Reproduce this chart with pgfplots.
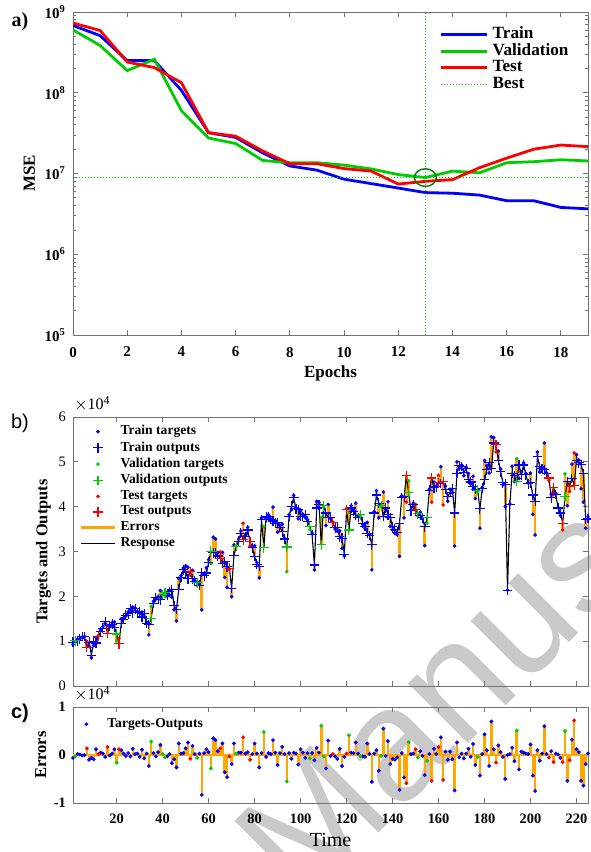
\documentclass[border=0pt]{standalone}
\usepackage{pgfplots}
\pgfplotsset{compat=1.18}
\usepackage{pgfplotstable}
\usepackage{fontspec}
\setmainfont{Liberation Serif}
\newfontfamily\sansfont{Liberation Sans}

\definecolor{mblue}{rgb}{0,0,1}
\definecolor{mgreen}{rgb}{0,0.8,0}
\definecolor{mred}{rgb}{1,0,0}
\definecolor{morange}{rgb}{1,0.65,0}
\definecolor{dgreen}{rgb}{0,0.5,0}

% keep only the rows of one data division (0 train, 1 validation, 2 test)
\pgfplotsset{
  only set/.style={restrict expr to domain={\thisrow{s}}{#1:#1}},
  mataxis/.style={
    scale only axis, anchor=south west,
    axis line style={draw=black!55},
    every tick/.style={black!55, line width=0.4pt},
    major tick length=2.5pt, minor tick length=1.5pt,
  }
}

% training record
\pgfplotstableread{
ep train val test
0 6.8e8 6.0e8 7.3e8
1 5.1e8 3.85e8 5.9e8
2 2.5e8 1.88e8 2.4e8
3 2.5e8 2.6e8 2.05e8
4 1.07e8 6.0e7 1.33e8
5 3.2e7 2.75e7 3.2e7
6 2.8e7 2.35e7 2.9e7
7 1.8e7 1.45e7 1.9e7
8 1.24e7 1.36e7 1.32e7
9 1.1e7 1.36e7 1.32e7
10 8.5e6 1.27e7 1.15e7
11 7.5e6 1.14e7 1.07e7
12 6.6e6 9.7e6 7.4e6
13 5.8e6 8.9e6 8.0e6
14 5.7e6 1.07e7 8.4e6
15 5.4e6 1.02e7 1.18e7
16 4.6e6 1.36e7 1.55e7
17 4.6e6 1.4e7 2.0e7
18 3.8e6 1.48e7 2.25e7
19 3.65e6 1.43e7 2.15e7
}\mse

% time response: target, output, error (target-output), division
\pgfplotstableread{
t y o e s
1 9200 9800 -600 0
2 9800 10100 -300 1
3 10300 10100 200 0
4 10600 10500 100 0
5 10900 11000 -100 0
6 11000 11000 0 0
7 10000 8600 1400 2
8 8800 9800 -1000 0
9 6300 6900 -600 0
10 9000 9900 -900 0
11 10800 9600 1200 0
12 11200 11000 200 2
13 12600 12100 500 0
14 13200 12900 300 0
15 14000 14400 -400 0
16 13500 11800 1700 2
17 13300 13400 -100 0
18 14100 13800 300 0
19 14300 13100 1200 0
20 10000 11600 -1600 1
21 10600 9400 1200 2
22 15000 14000 1000 0
23 15200 14900 300 0
24 15600 15800 -200 0
25 16500 16100 400 0
26 16900 17200 -300 0
27 17600 16300 1300 0
28 17400 17200 200 0
29 16600 16300 300 0
30 16200 16600 -400 0
31 16500 15400 1100 0
32 15400 16100 -700 0
33 14300 14000 300 0
34 11400 13700 -2300 0
35 17800 15000 2800 1
36 18900 18500 400 0
37 19400 19700 -300 0
38 19900 19300 600 0
39 21300 19200 2100 0
40 20600 20400 200 1
41 20300 20800 -500 1
42 20000 20300 -300 0
43 21200 21000 200 0
44 19800 21500 -1700 0
45 17000 17900 -900 0
46 14500 17100 -2600 0
47 24000 21600 2400 0
48 24600 24300 300 0
49 26300 25900 400 0
50 26800 25400 1400 0
51 26500 23900 2600 0
52 24700 25500 -800 2
53 25800 23900 1900 0
54 23600 23400 200 0
55 22400 23000 -600 1
56 22800 22500 300 0
57 17000 25300 -8300 0
58 25000 24600 400 0
59 26400 25200 1200 0
60 28200 27600 600 0
61 27300 30100 -2800 1
62 33200 29700 3500 0
63 32800 29700 3100 0
64 29800 29000 800 0
65 29900 28500 1400 2
66 29800 27400 2400 0
67 24200 27800 -3600 0
68 22000 26600 -4600 0
69 26000 26300 -300 2
70 19900 21800 -1900 0
71 31500 29100 2400 0
72 31400 31100 300 1
73 32800 32300 500 0
74 34600 34100 500 0
75 36300 32600 3700 2
76 33600 33300 300 0
77 35400 34800 600 0
78 31200 32200 -1000 2
79 31000 30800 200 0
80 31300 28900 2400 0
81 27500 27200 300 0
82 24100 26700 -2600 0
83 37500 37100 400 0
84 35600 30800 4800 1
85 37300 37700 -400 0
86 38200 37800 400 0
87 37300 37100 200 0
88 39900 36800 3100 0
89 36800 36300 500 0
90 34300 36400 -2100 0
91 35800 35400 400 0
92 36100 34400 1700 0
93 33000 32800 200 0
94 25500 31000 -5500 1
95 38200 37800 400 0
96 39300 40100 -800 0
97 42500 42000 500 0
98 39800 39500 300 0
99 37300 39300 -2000 0
100 39100 37900 1200 0
101 38300 37800 500 0
102 37600 38200 -600 0
103 37100 36700 400 0
104 34900 35600 -700 1
105 34100 33700 400 0
106 25900 27000 -1100 0
107 41200 39700 1500 0
108 40900 40400 500 0
109 37600 31500 6100 1
110 39900 40200 -300 1
111 35800 38600 -2800 0
112 40500 37500 3000 0
113 37300 37500 -200 0
114 36600 36400 200 2
115 35000 35300 -300 0
116 34500 35300 -800 0
117 34600 33300 1300 0
118 30700 33000 -2300 0
119 29000 29400 -400 0
120 39600 39300 300 2
121 38900 34800 4100 1
122 40200 39700 500 0
123 39300 38900 400 0
124 40800 38200 2600 0
125 37900 37600 300 0
126 38000 38200 -200 1
127 36000 36300 -300 0
128 35200 35600 -400 0
129 36500 34100 2400 0
130 33800 33600 200 0
131 25900 31500 -5600 0
132 38900 38600 300 0
133 43600 42600 1000 0
134 37500 40800 -3300 0
135 40000 40200 -200 1
136 43300 37800 5500 0
137 39500 39700 -200 0
138 41100 38200 2900 0
139 35600 37500 -1900 0
140 34800 35600 -800 0
141 34000 35000 -1000 0
142 33800 34300 -500 0
143 28900 36200 -7300 0
144 42400 42000 400 0
145 37500 42200 -4700 0
146 41000 46900 -5900 2
147 45800 43100 2700 1
148 39300 39100 200 0
149 40800 40500 300 0
150 40500 39300 1200 2
151 37900 38400 -500 1
152 38800 38000 800 0
153 37300 37500 -200 0
154 31300 35500 -4200 0
155 36300 37500 -1200 1
156 43900 43700 200 0
157 41000 46400 -5400 2
158 45500 44200 1300 0
159 44600 44400 200 0
160 47000 45300 1700 2
161 48900 45200 3700 0
162 40400 45600 -5200 2
163 44600 43900 700 0
164 41200 42200 -1000 0
165 43900 43200 700 0
166 43100 44000 -900 0
167 31200 38600 -7400 0
168 50000 47400 2600 0
169 48600 49100 -500 0
170 49300 49000 300 0
171 46900 47600 -700 0
172 48800 48500 300 0
173 47400 46100 1300 0
174 45100 45500 -400 0
175 46800 44500 2300 0
176 41800 43900 -2100 0
177 43300 43700 -400 1
178 35200 39500 -4300 0
179 44300 44100 200 0
180 50300 46000 4300 0
181 49200 48200 1000 0
182 47500 49800 -2300 0
183 55600 48600 7000 0
184 55400 54200 1200 0
185 52200 53800 -1600 2
186 52400 50400 2000 0
187 48400 47800 600 0
188 44900 45300 -400 0
189 40000 45000 -5000 0
190 21400 21400 0 0
191 40600 40400 200 0
192 49000 47500 1500 0
193 45600 46900 -1300 0
194 50700 45600 5100 1
195 46300 49300 -3000 0
196 47800 47100 700 0
197 49800 49300 500 0
198 47400 47100 300 0
199 45300 45100 200 0
200 47500 45300 2200 0
201 38300 42600 -4300 0
202 33700 41200 -7500 0
203 52200 51200 1000 0
204 47700 48900 -1200 0
205 48800 48500 300 0
206 54200 48200 6000 0
207 47500 47300 200 0
208 45900 46400 -500 2
209 42800 42000 800 0
210 42700 44200 -1500 2
211 43000 42700 300 0
212 39800 39700 100 0
213 38000 38600 -600 0
214 34800 36300 -1500 2
215 47300 42300 5000 1
216 40200 45600 -5400 0
217 43400 44500 -1100 2
218 49500 46300 3200 0
219 52000 44800 7200 2
220 51600 50400 1200 0
221 50400 49800 600 0
222 44000 49400 -5400 0
223 41000 47400 -6400 0
224 35200 37100 -1900 0
225 37700 37400 300 0
}\resp

\begin{document}
\begin{tikzpicture}[x=1pt,y=1pt]
\useasboundingbox (0,0) rectangle (295,426);

% watermark
\node[rotate=45, anchor=base, text=black!21, inner sep=0pt,
  font=\sansfont\fontsize{80}{80}\selectfont] at (290pt,110pt) {Manuscript};

% ---------- a) performance ----------
\begin{axis}[mataxis,
  at={(36.5pt,258.5pt)}, width=257.5pt, height=161.5pt,
  ymode=log, ymin=1e5, ymax=1e9, xmin=0, xmax=19,
  xtick={0,2,...,18},
  xticklabel={\pgfmathprintnumber[assume math mode=true]{\tick}},
  ytick={1e5,1e6,1e7,1e8,1e9},
  yticklabels={10\textsuperscript{5},10\textsuperscript{6},10\textsuperscript{7},10\textsuperscript{8},10\textsuperscript{9}},
  tick label style={font=\fontsize{7.5}{9}\selectfont\bfseries},
  xticklabel style={yshift=-2.5pt},
  xlabel={Epochs}, ylabel={MSE},
  label style={font=\fontsize{8.5}{10}\selectfont\bfseries},
  xlabel style={yshift=2.5pt}, ylabel style={yshift=-2pt},
  legend style={at={(0.70,0.98)}, anchor=north west, draw=none, fill=none,
    font=\fontsize{8.6}{9}\selectfont\bfseries, row sep=-3.0pt},
  legend cell align=left,
  legend image code/.code={\draw[#1] (0pt,0pt) -- (23pt,0pt);},
]
\addplot[mblue, line width=1.4pt] table[x=ep, y=train] {\mse};
\addlegendentry{Train}
\addplot[mgreen, line width=1.4pt] table[x=ep, y=val] {\mse};
\addlegendentry{Validation}
\addplot[mred, line width=1.4pt] table[x=ep, y=test] {\mse};
\addlegendentry{Test}
\addplot[mgreen, densely dotted, line width=0.5pt] coordinates {(0,8.9e6) (19,8.9e6)};
\addlegendentry{Best}
\addplot[forget plot, mgreen, densely dotted, line width=0.5pt] coordinates {(13,1e5) (13,1e9)};
\addplot[forget plot, only marks, mark=o, mark size=5.5pt, dgreen, line width=0.7pt,
  mark options={yscale=0.8}] coordinates {(13,8.9e6)};
\end{axis}

% ---------- b) response ----------
\begin{axis}[mataxis,
  at={(36.5pt,83pt)}, width=257.5pt, height=134.5pt,
  xmin=1, xmax=225, ymin=0, ymax=60000,
  xtick={20,40,...,220}, xticklabels={},
  ytick={0,10000,...,60000}, yticklabels={0,1,2,3,4,5,6},
  scaled y ticks=false,
  tick label style={font=\fontsize{7.2}{9}\selectfont},
  ylabel={Targets and Outputs},
  ylabel style={font=\fontsize{8.2}{10}\selectfont\bfseries, yshift=-3pt},
  legend style={at={(0.0,1.0)}, anchor=north west, draw=none, fill=none,
    font=\fontsize{6.8}{7.4}\selectfont\bfseries, row sep=-2.1pt},
  legend cell align=left,
]
\addplot[forget plot, morange, line width=1.3pt, quiver={u=0, v=\thisrow{e}}] table[x=t, y=o] {\resp};
\addplot[forget plot, black, line width=0.55pt] table[x=t, y=o] {\resp};
\addplot[forget plot, only marks, mark=*, mark size=0.7pt, mblue, only set=0] table[x=t, y=y] {\resp};
\addplot[forget plot, only marks, mark=*, mark size=0.7pt, mgreen, only set=1] table[x=t, y=y] {\resp};
\addplot[forget plot, only marks, mark=*, mark size=0.7pt, mred, only set=2] table[x=t, y=y] {\resp};
\addplot[forget plot, only marks, mark=+, mark size=2.4pt, mblue, line width=0.55pt, only set=0] table[x=t, y=o] {\resp};
\addplot[forget plot, only marks, mark=+, mark size=2.4pt, mgreen, line width=0.55pt, only set=1] table[x=t, y=o] {\resp};
\addplot[forget plot, only marks, mark=+, mark size=2.4pt, mred, line width=0.55pt, only set=2] table[x=t, y=o] {\resp};
\addlegendimage{only marks, mark=*, mark size=0.7pt, mblue}\addlegendentry{Train targets}
\addlegendimage{only marks, mark=+, mark size=2.4pt, mblue, line width=0.55pt}\addlegendentry{Train outputs}
\addlegendimage{only marks, mark=*, mark size=0.7pt, mgreen}\addlegendentry{Validation targets}
\addlegendimage{only marks, mark=+, mark size=2.4pt, mgreen, line width=0.55pt}\addlegendentry{Validation outputs}
\addlegendimage{only marks, mark=*, mark size=0.7pt, mred}\addlegendentry{Test targets}
\addlegendimage{only marks, mark=+, mark size=2.4pt, mred, line width=0.55pt}\addlegendentry{Test outputs}
\addlegendimage{morange, line width=1.5pt}\addlegendentry{Errors}
\addlegendimage{black, line width=0.8pt}\addlegendentry{Response}
\end{axis}

% ---------- c) errors ----------
\begin{axis}[mataxis,
  at={(36.5pt,24.5pt)}, width=257.5pt, height=48pt,
  xmin=1, xmax=225, ymin=-10000, ymax=10000,
  xtick={20,40,...,220},
  xticklabel={\pgfmathprintnumber[assume math mode=true]{\tick}},
  ytick={-10000,0,10000}, yticklabels={-1,0,1},
  scaled y ticks=false,
  tick label style={font=\fontsize{7.2}{9}\selectfont\bfseries},
  xticklabel style={yshift=-2pt},
  xlabel={Time}, ylabel={Errors},
  xlabel style={font=\fontsize{10}{12}\selectfont, yshift=2pt},
  ylabel style={font=\fontsize{8.3}{10}\selectfont\bfseries, yshift=-3pt},
  legend style={at={(0.0,0.97)}, xshift=-5pt, anchor=north west, draw=none, fill=none,
    font=\fontsize{6.8}{7.4}\selectfont\bfseries},
  legend cell align=left,
]
\addplot[forget plot, ycomb, morange, line width=1.25pt] table[x=t, y=e] {\resp};
\addplot[forget plot, morange, line width=1pt] coordinates {(1,0) (225,0)};
\addplot[forget plot, only marks, mark=*, mark size=0.75pt, mblue, only set=0] table[x=t, y=e] {\resp};
\addplot[forget plot, only marks, mark=*, mark size=0.75pt, mgreen, only set=1] table[x=t, y=e] {\resp};
\addplot[forget plot, only marks, mark=*, mark size=0.75pt, mred, only set=2] table[x=t, y=e] {\resp};
\addlegendimage{legend image code/.code={\path[draw=none, fill=none] (0pt,-1pt) rectangle (17pt,1pt);
  \fill[mblue] (8.5pt,0pt) circle (0.75pt);}}
\addlegendentry{Targets-Outputs}
\end{axis}

% panel letters and exponent labels
\node[font=\fontsize{10}{12}\selectfont\bfseries] at (10pt,415pt) {a)};
\node[font=\sansfont\fontsize{10}{12}\selectfont] at (10pt,214.5pt) {b)};
\node[font=\sansfont\fontsize{10}{12}\selectfont\bfseries] at (10pt,69.5pt) {c)};
\node[anchor=base west, inner sep=0pt, font=\fontsize{8}{9}\selectfont] at (37pt,221pt) {$\times$10\textsuperscript{4}};
\node[anchor=base west, inner sep=0pt, font=\fontsize{8}{9}\selectfont] at (37pt,76pt) {$\times$10\textsuperscript{4}};
\end{tikzpicture}
\end{document}
